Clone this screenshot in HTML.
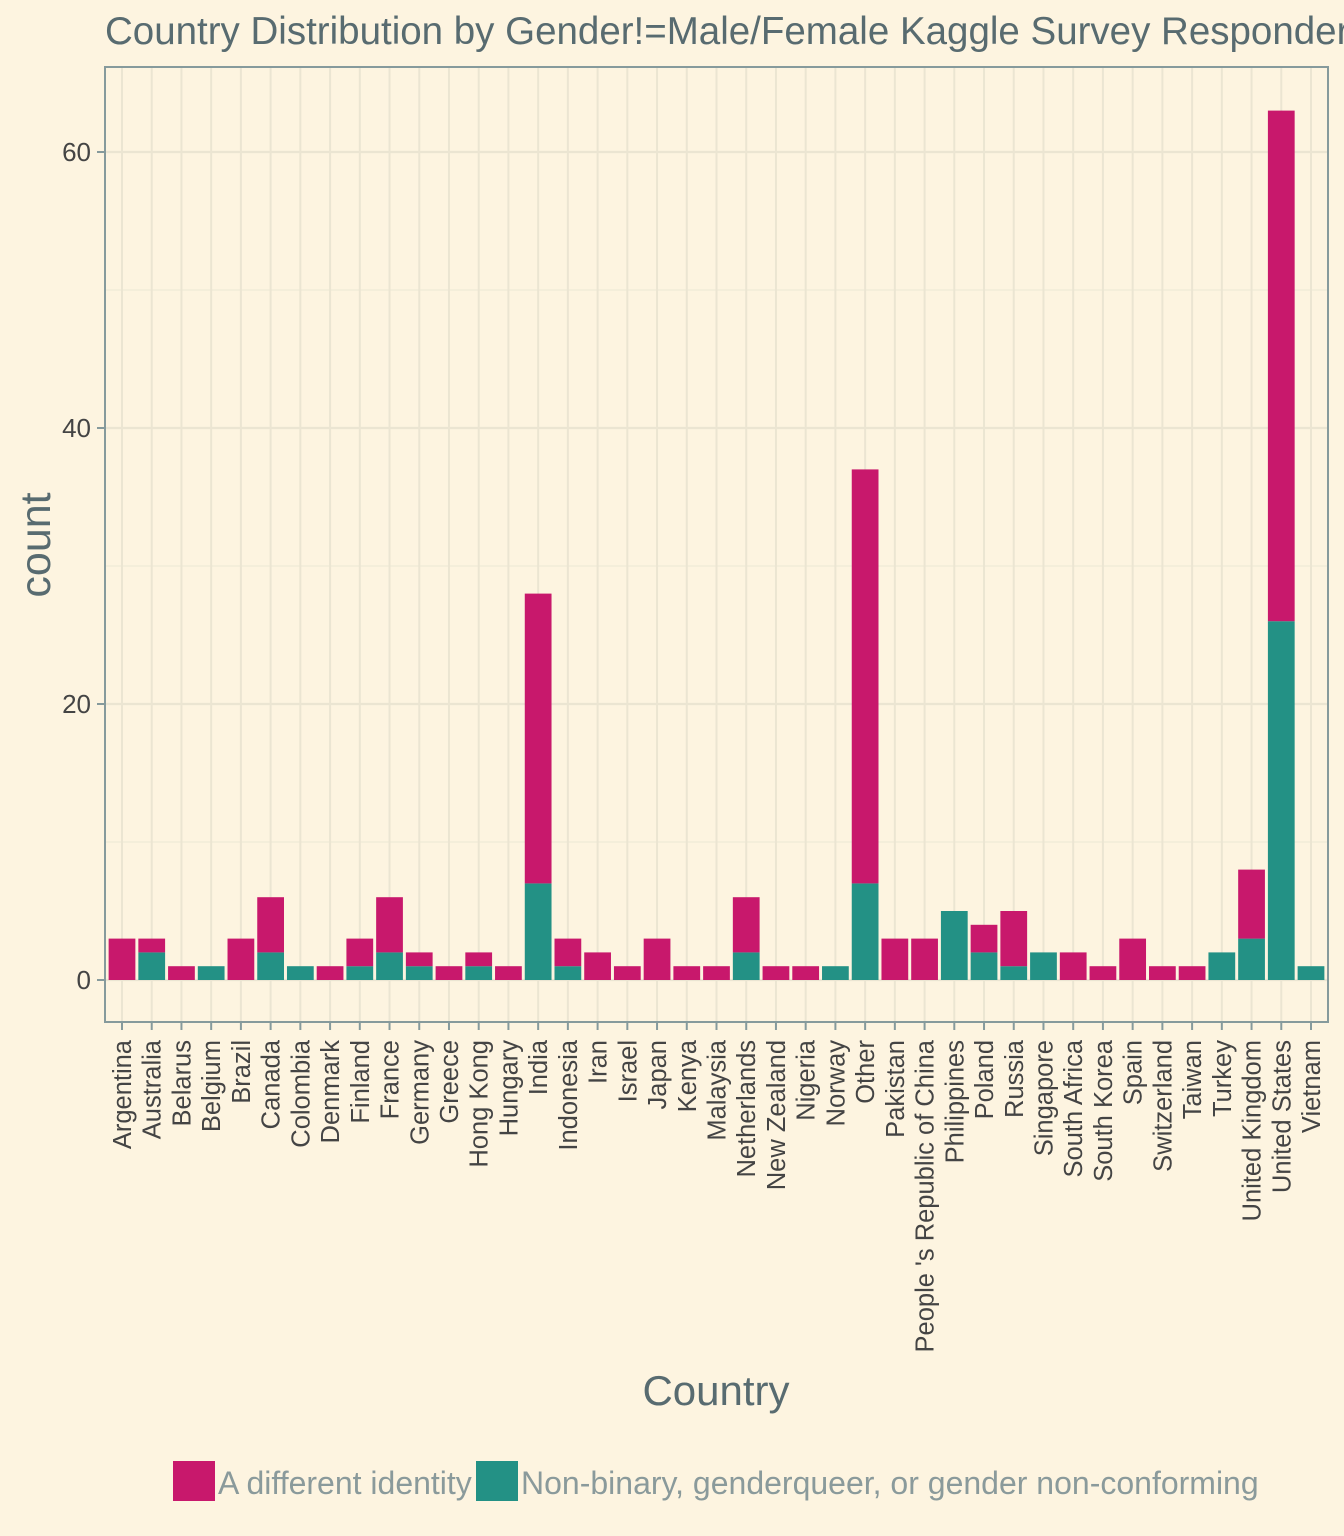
<!DOCTYPE html>
<html><head><meta charset="utf-8"><style>
body{margin:0;background:#fdf4e0;overflow:hidden;}
svg{display:block;font-family:"Liberation Sans",Arial,sans-serif;}
</style></head><body>
<svg id="chart" width="1344" height="1536" viewBox="0 0 1344 1536">
<rect width="1344" height="1536" fill="#fdf4e0"/>
<text x="105" y="44" font-size="38.5" fill="#586b70">Country Distribution by Gender!=Male/Female Kaggle Survey Responders</text>
<g id="grid"></g>
<g id="bars"></g>
<rect x="105" y="67" width="1223" height="955" fill="none" stroke="#869a9c" stroke-width="2"/>
<g id="axes"></g>
<text transform="translate(50,545) rotate(-90)" text-anchor="middle" font-size="43" fill="#586b70">count</text>
<text x="716" y="1405" text-anchor="middle" font-size="42" fill="#586b70">Country</text>
<g>
<rect x="173" y="1461" width="42" height="40" fill="#c8186c"/>
<text x="218" y="1494" font-size="32" fill="#8a9a9b">A different identity</text>
<rect x="476" y="1461" width="42" height="40" fill="#239185"/>
<text x="521" y="1494" font-size="32" fill="#8a9a9b">Non-binary, genderqueer, or gender non-conforming</text>
</g>
</svg>
<script>
const categories=["Argentina","Australia","Belarus","Belgium","Brazil","Canada","Colombia","Denmark","Finland","France","Germany","Greece","Hong Kong","Hungary","India","Indonesia","Iran","Israel","Japan","Kenya","Malaysia","Netherlands","New Zealand","Nigeria","Norway","Other","Pakistan","People 's Republic of China","Philippines","Poland","Russia","Singapore","South Africa","South Korea","Spain","Switzerland","Taiwan","Turkey","United Kingdom","United States","Vietnam"];
const differentIdentity=[3,1,1,0,3,4,0,1,2,4,1,1,1,1,21,2,2,1,3,1,1,4,1,1,0,30,3,3,0,2,4,0,2,1,3,1,1,0,5,37,0];
const nonBinary=[0,2,0,1,0,2,1,0,1,2,1,0,1,0,7,1,0,0,0,0,0,2,0,0,1,7,0,0,5,2,1,2,0,0,0,0,0,2,3,26,1];
const yTicks=[0,20,40,60];
const yMinor=[10,30,50];
const NS="http://www.w3.org/2000/svg";
const px0=105,px1=1328,py0=67,py1=1022;
function y(v){return 980-v*(980-152)/60;}
function x(i){return 122+i*(1311-122)/(categories.length-1);}
const bw=(1311-122)/(categories.length-1)*0.9;
function mk(tag,attrs,parent){const e=document.createElementNS(NS,tag);for(const k in attrs)e.setAttribute(k,attrs[k]);parent.appendChild(e);return e;}
const grid=document.getElementById('grid'),bars=document.getElementById('bars'),axes=document.getElementById('axes');
mk('rect',{x:px0,y:py0,width:px1-px0,height:py1-py0,fill:'#fdf4e0'},grid);
yMinor.forEach(v=>{const l=mk('line',{x1:px0,x2:px1,y1:y(v),y2:y(v),stroke:'#efe9d6','stroke-width':1.2},grid);

});
yTicks.forEach(v=>{const l=mk('line',{x1:px0,x2:px1,y1:y(v),y2:y(v),stroke:'#ebe5d2','stroke-width':2.2},grid);


const t=mk('line',{x1:px0-8,x2:px0,y1:y(v),y2:y(v),stroke:'#869a9c','stroke-width':2},axes);


const tx=mk('text',{x:px0-14,y:y(v)+9,'text-anchor':'end','font-size':26,fill:'#444'},axes);tx.textContent=v;

});
categories.forEach((c,i)=>{const cx=x(i);
const g=mk('line',{x1:cx,x2:cx,y1:py0,y2:py1,stroke:'#ebe5d2','stroke-width':2},grid);


const nb=nonBinary[i],di=differentIdentity[i];
if(nb>0){const r=mk('rect',{x:cx-bw/2,y:y(nb),width:bw,height:y(0)-y(nb),fill:'#239185'},bars);

}
if(di>0){const r=mk('rect',{x:cx-bw/2,y:y(nb+di),width:bw,height:y(nb)-y(nb+di),fill:'#c8186c'},bars);

}
const t=mk('line',{x1:cx,x2:cx,y1:py1,y2:py1+8,stroke:'#869a9c','stroke-width':2},axes);


const tx=mk('text',{transform:`translate(${cx+9},${py1+18}) rotate(-90)`,'text-anchor':'end','font-size':25.5,fill:'#444'},axes);tx.textContent=c;

});
</script>
</body></html>
